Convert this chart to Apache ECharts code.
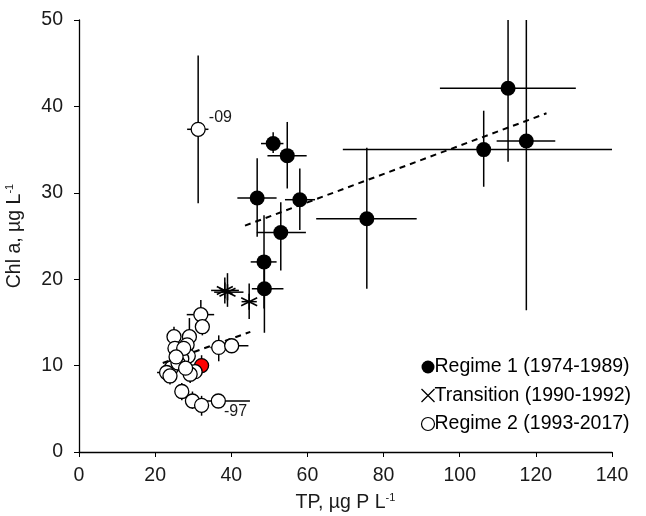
<!DOCTYPE html>
<html>
<head>
<meta charset="utf-8">
<script src="https://cdn.jsdelivr.net/npm/echarts@6/dist/echarts.min.js"></script>
<style>html,body{margin:0;padding:0;background:#fff;}#c{width:646px;height:516px;}</style>
</head>
<body>
<div id="c"></div>
<script>
// Axis ticks
const xTicks = [0, 20, 40, 60, 80, 100, 120, 140];
const yTicks = [0, 10, 20, 30, 40, 50];

// Regime 1 (1974-1989)
const tp1    = [112.7, 117.5, 106.3, 75.6, 58.0, 54.7, 51.0, 46.8, 53.0, 48.6, 48.7];
const chl1   = [42.1, 36.0, 35.0, 27.0, 29.2, 34.3, 35.7, 29.4, 25.4, 22.0, 18.9];
const tp1Lo  = [94.8, 109.7, 69.3, 62.3, 54.1, 49.5, 47.8, 41.6, 46.7, 45.1, 45.4];
const tp1Hi  = [130.5, 125.1, 140.5, 88.7, 62.0, 59.8, 53.7, 51.9, 59.6, 51.9, 53.7];
const chl1Lo = [33.6, 16.4, 30.7, 18.9, 25.7, 30.5, 34.6, 24.9, 21.0, 16.6, 13.8];
const chl1Hi = [55, 55, 39.5, 35.2, 32.8, 38.2, 37.0, 34.0, 28.9, 27.4, 22.0];

// Transition (1990-1992)
const tpT    = [38.3, 39.0, 44.7];
const chlT   = [18.7, 18.5, 17.4];
const tpTLo  = [34.7, 35.5, 42.7];
const tpTHi  = [42.0, 43.2, 46.7];
const chlTLo = [17.2, 16.8, 15.4];
const chlTHi = [20.2, 20.7, 19.5];

// Regime 2 (1993-2017)
const tp2    = [32.0, 32.4, 24.95, 29.0, 28.4, 25.2, 28.7, 27.0, 36.7, 40.1, 32.2, 30.5, 29.2, 24.3, 23.0, 23.9, 26.0, 27.0, 29.8, 32.2, 36.6, 31.3, 27.5, 25.5, 28.0];
const chl2   = [15.9, 14.5, 13.35, 13.35, 12.4, 12.0, 11.1, 10.8, 12.1, 12.3, 10.0, 9.3, 9.0, 9.75, 9.2, 8.8, 10.3, 7.0, 5.9, 5.4, 5.9, 37.35, 12.0, 11.0, 9.7];
const tp2Lo  = [28.3, 31.0, 23.5, 27.5, 27.0, 23.5, 27.5, 25.5, 34.5, 39.0, 31.0, 29.0, 28.0, 22.5, 20.5, 22.0, 24.5, 25.5, 28.5, 30.5, 33.5, 28.4, 26.0, 24.0, 27.0];
const tp2Hi  = [35.5, 34.0, 26.5, 30.5, 30.0, 27.0, 30.0, 28.5, 39.0, 44.5, 33.5, 32.0, 30.5, 26.0, 25.0, 25.5, 27.5, 28.5, 31.0, 34.0, 44.9, 34.0, 29.0, 27.0, 29.0];
const chl2Lo = [14.3, 13.5, 12.3, 11.5, 11.5, 11.0, 10.0, 9.8, 10.5, 11.5, 9.0, 8.5, 8.0, 8.8, 8.5, 7.8, 9.5, 6.0, 5.0, 4.2, 5.2, 28.8, 11.2, 10.2, 9.0];
const chl2Hi = [17.6, 15.5, 14.5, 15.5, 13.3, 13.0, 12.0, 11.8, 13.5, 13.0, 11.2, 10.0, 10.0, 10.8, 10.0, 9.8, 11.0, 8.0, 7.0, 6.5, 6.6, 45.9, 12.8, 11.8, 10.5];
const yearLabel2 = ['', '', '', '', '', '', '', '', '', '', '', '', '', '', '', '', '', '', '', '', '-97', '-09', '', '', ''];
const redIndex2 = 10;

// Trend lines (endpoints)
const trend1X = [43.6, 122.8];
const trend1Y = [26.2, 39.2];
const trend2X = [22.0, 45.0];
const trend2Y = [10.3, 13.9];

const chart = echarts.init(document.getElementById('c'));
const FONT = 'Liberation Sans, Arial, sans-serif';
const FS = 19.5;
const TXT = '#1a1a1a';

function errData(x, y, xl, xh, yl, yh) {
  return x.map((v, i) => [v, y[i], xl[i], xh[i], yl[i], yh[i]]);
}
function errSeries(data) {
  return {
    type: 'custom',
    silent: true,
    clip: true,
    z: 1,
    data: data,
    encode: { x: 0, y: 1 },
    renderItem: function (params, api) {
      const c0 = api.coord([api.value(2), api.value(1)]);
      const c1 = api.coord([api.value(3), api.value(1)]);
      const c2 = api.coord([api.value(0), api.value(4)]);
      const c3 = api.coord([api.value(0), api.value(5)]);
      const st = { stroke: '#000', lineWidth: 1.5 };
      return {
        type: 'group',
        children: [
          { type: 'line', shape: { x1: c0[0], y1: c0[1], x2: c1[0], y2: c1[1] }, style: st },
          { type: 'line', shape: { x1: c2[0], y1: c2[1], x2: c3[0], y2: c3[1] }, style: st }
        ]
      };
    }
  };
}
function pairs(x, y) { return x.map((v, i) => [v, y[i]]); }

const star = 'path://M0,-10L0,10M-8.66,-5L8.66,5M-8.66,5L8.66,-5';
const cross = 'path://M0,0L10,10M10,0L0,10';

const reg2Data = tp2.map((v, i) => {
  const d = { value: [v, chl2[i]] };
  if (i === redIndex2) d.itemStyle = { color: '#ff0000', borderColor: '#000' };
  if (yearLabel2[i]) {
    d.label = {
      show: true, formatter: yearLabel2[i], position: 'right',
      offset: yearLabel2[i] === '-09' ? [-2, -12] : [-7, 11],
      fontSize: 16, color: TXT, fontFamily: FONT
    };
  }
  return d;
});

const supRich = { s: { fontSize: 11, verticalAlign: 'top', padding: [0, 0, 10, 0], color: TXT, fontFamily: FONT } };

chart.setOption({
  animation: false,
  backgroundColor: '#fff',
  grid: { left: 79, right: 34, top: 20, bottom: 64, containLabel: false, outerBoundsMode: 'none' },
  xAxis: {
    type: 'value', min: 0, max: 140, interval: 20,
    name: 'TP, µg P L{s|-1}', nameLocation: 'middle', nameGap: 40,
    nameTextStyle: { fontSize: FS, color: TXT, fontFamily: FONT, rich: supRich },
    axisLine: { lineStyle: { color: '#000', width: 1.3 } },
    axisTick: { show: true, length: 5, lineStyle: { color: '#000' } },
    axisLabel: { fontSize: FS, color: TXT, fontFamily: FONT, margin: 14 },
    splitLine: { show: false }
  },
  yAxis: {
    type: 'value', min: 0, max: 50, interval: 10,
    name: 'Chl a, µg L{s|-1}', nameLocation: 'middle', nameGap: 54, nameRotate: 90,
    nameTextStyle: { fontSize: FS, color: TXT, fontFamily: FONT, rich: supRich },
    axisLine: { show: true, lineStyle: { color: '#000', width: 1.3 } },
    axisTick: { show: true, length: 5, lineStyle: { color: '#000' } },
    axisLabel: { fontSize: FS, color: TXT, fontFamily: FONT, margin: 16 },
    splitLine: { show: false }
  },
  legend: {
    orient: 'vertical', left: 414, top: 352, itemGap: 8.5, itemWidth: 13, itemHeight: 13,
    textStyle: { fontSize: FS, color: '#000', fontFamily: FONT, padding: [0, 0, 0, -5] },
    data: [
      { name: 'Regime 1 (1974-1989)', icon: 'circle' },
      { name: 'Transition (1990-1992)', icon: cross, itemStyle: { color: 'none', borderColor: '#000', borderWidth: 1.3 } },
      { name: 'Regime 2 (1993-2017)', icon: 'circle', itemStyle: { color: '#fff', borderColor: '#000', borderWidth: 1.2 } }
    ]
  },
  series: [
    errSeries(errData(tp1, chl1, tp1Lo, tp1Hi, chl1Lo, chl1Hi)),
    errSeries(errData(tpT, chlT, tpTLo, tpTHi, chlTLo, chlTHi)),
    errSeries(errData(tp2, chl2, tp2Lo, tp2Hi, chl2Lo, chl2Hi)),
    {
      type: 'line', data: pairs(trend1X, trend1Y), symbol: 'none', silent: true, z: 2,
      lineStyle: { color: '#000', width: 2, type: [6, 5] }
    },
    {
      type: 'line', data: pairs(trend2X, trend2Y), symbol: 'none', silent: true, z: 2,
      lineStyle: { color: '#000', width: 2, type: [6, 5] }
    },
    {
      name: 'Regime 1 (1974-1989)', type: 'scatter', z: 3, symbol: 'circle', symbolSize: 15,
      itemStyle: { color: '#000', opacity: 1 }, data: pairs(tp1, chl1)
    },
    {
      name: 'Transition (1990-1992)', type: 'scatter', z: 3, symbol: star, symbolSize: 16,
      itemStyle: { color: 'none', borderColor: '#000', borderWidth: 1.6, opacity: 1 }, data: pairs(tpT, chlT)
    },
    {
      name: 'Regime 2 (1993-2017)', type: 'scatter', z: 3, symbol: 'circle', symbolSize: 14,
      itemStyle: { color: '#fff', borderColor: '#000', borderWidth: 1.3, opacity: 1 }, data: reg2Data
    }
  ]
});
</script>
</body>
</html>
